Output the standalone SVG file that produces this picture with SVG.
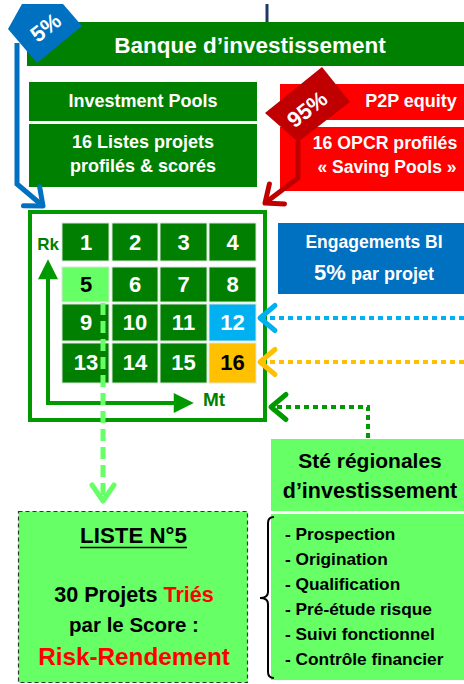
<svg xmlns="http://www.w3.org/2000/svg" width="464" height="684" viewBox="0 0 464 684">
<style>
text{font-family:"Liberation Sans",Arial,sans-serif;font-weight:bold;text-anchor:middle}
.w{fill:#fff}
.k{fill:#000}
.r{fill:#ff0000}
.dg{fill:#007f00}
.cell{fill:#007f00;stroke:#d8e6d8;stroke-width:1}
.num{font-size:22px}
.lg{fill:#66ff66}
.li{text-anchor:start}
</style>
<defs>
<marker id="chev" markerUnits="userSpaceOnUse" markerWidth="30" markerHeight="30" refX="0" refY="0" viewBox="-14 -12 18 24" orient="auto" overflow="visible">
<path d="M-12,-10 L0,0 L-12,10" fill="none" stroke="context-stroke" stroke-width="4" stroke-linecap="round" stroke-linejoin="round"/>
</marker>
<marker id="tri" markerUnits="userSpaceOnUse" markerWidth="20" markerHeight="20" refX="0" refY="0" viewBox="-14 -8 16 16" orient="auto" overflow="visible">
<path d="M-13,-8 L3,0 L-13,8 Z" fill="#009a00"/>
</marker>
</defs>

<line x1="267" y1="4" x2="267" y2="23" stroke="#1f3864" stroke-width="3"/>

<g id="banque">
<rect x="27" y="22" width="437" height="44" fill="#008000"/>
<text x="250" y="53" class="w" font-size="22.5">Banque d’investissement</text>
</g>

<g id="investment-pools">
<rect x="29" y="82" width="228" height="39" fill="#008000"/>
<text x="143" y="107" class="w" font-size="18">Investment Pools</text>
<rect x="29" y="124" width="228" height="63" fill="#008000"/>
<text x="143" y="148" class="w" font-size="18">16 Listes projets</text>
<text x="143" y="172" class="w" font-size="18">profilés &amp; scorés</text>
</g>

<g id="p2p">
<rect x="280" y="84" width="184" height="36" fill="#ff0000"/>
<text x="411" y="107" class="w" font-size="18">P2P equity</text>
<rect x="280" y="127" width="184" height="64" fill="#ff0000"/>
<text x="385" y="149" class="w" font-size="17.7">16 OPCR profilés</text>
<text x="387" y="173" class="w" font-size="17.5">« Saving Pools »</text>
</g>

<g id="tag-5">
<polygon points="8,29 22,4 63,4 82,26 37,63" fill="#0070c0"/>
<text x="46" y="35" class="w" font-size="22" transform="rotate(-38 46 28)">5%</text>
</g>

<g id="tag-95">
<polygon points="265,113 322,67 350,102 298,142" fill="#c00000"/>
<text x="307" y="117" class="w" font-size="22" transform="rotate(-38 307 109)">95%</text>
</g>

<g id="matrix">
<rect x="30" y="212" width="235" height="208" fill="#fff" stroke="#009a00" stroke-width="4"/>
<rect class="cell" x="62" y="223" width="47" height="38"/>
<rect class="cell" x="112" y="223" width="46" height="38"/>
<rect class="cell" x="160" y="223" width="47" height="38"/>
<rect class="cell" x="209" y="223" width="47" height="38"/>
<rect x="62" y="267" width="47" height="35" fill="#66ff66" stroke="#d8e6d8" stroke-width="1"/>
<rect class="cell" x="112" y="267" width="46" height="35"/>
<rect class="cell" x="160" y="267" width="47" height="35"/>
<rect class="cell" x="209" y="267" width="47" height="35"/>
<rect class="cell" x="62" y="304" width="47" height="37"/>
<rect class="cell" x="112" y="304" width="46" height="37"/>
<rect class="cell" x="160" y="304" width="47" height="37"/>
<rect x="209" y="304" width="47" height="37" fill="#00b0f0" stroke="#d8e6d8" stroke-width="1"/>
<rect class="cell" x="62" y="343" width="47" height="40"/>
<rect class="cell" x="112" y="343" width="46" height="40"/>
<rect class="cell" x="160" y="343" width="47" height="40"/>
<rect x="209" y="343" width="47" height="40" fill="#ffc000" stroke="#d8e6d8" stroke-width="1"/>
<text class="num w" x="86" y="250">1</text>
<text class="num w" x="135" y="250">2</text>
<text class="num w" x="183.5" y="250">3</text>
<text class="num w" x="232.5" y="250">4</text>
<text class="num k" x="86" y="292">5</text>
<text class="num w" x="135" y="292">6</text>
<text class="num w" x="183.5" y="292">7</text>
<text class="num w" x="232.5" y="292">8</text>
<text class="num w" x="86" y="330">9</text>
<text class="num w" x="135" y="330">10</text>
<text class="num w" x="183.5" y="330">11</text>
<text class="num w" x="232.5" y="330">12</text>
<text class="num w" x="86" y="370">13</text>
<text class="num w" x="135" y="370">14</text>
<text class="num w" x="183.5" y="370">15</text>
<text class="num k" x="232.5" y="370">16</text>
<path d="M48,403 V263" fill="none" stroke="#009a00" stroke-width="4" marker-end="url(#tri)"/>
<path d="M46,403 H190" fill="none" stroke="#009a00" stroke-width="4" marker-end="url(#tri)"/>
<text x="48" y="250" class="dg" font-size="17">Rk</text>
<text x="214" y="406" class="dg" font-size="19">Mt</text>
</g>

<g id="engagements">
<rect x="278" y="223" width="186" height="71" fill="#0070c0"/>
<text x="374" y="248" class="w" font-size="17.5">Engagements BI</text>
<text x="374" y="280" class="w"><tspan font-size="22">5%</tspan><tspan font-size="18"> par projet</tspan></text>
</g>

<g id="ste-regionales">
<rect x="271" y="439" width="193" height="72" class="lg"/>
<text x="370" y="468" class="k" font-size="21">Sté régionales</text>
<text x="370" y="498" class="k" font-size="21.5">d’investissement</text>
</g>

<g id="missions">
<rect x="271" y="514" width="193" height="166" class="lg"/>
<path d="M274,517 Q268,517 268,523 V592 Q268,598 260,598 Q268,598 268,604 V672 Q268,678 274,678" fill="none" stroke="#000" stroke-width="2"/>
<g font-size="17.3" class="k">
<text x="285" y="540" class="li">- Prospection</text>
<text x="285" y="565" class="li">- Origination</text>
<text x="285" y="590" class="li">- Qualification</text>
<text x="285" y="615" class="li">- Pré-étude risque</text>
<text x="285" y="640" class="li">- Suivi fonctionnel</text>
<text x="285" y="665" class="li">- Contrôle financier</text>
</g>
</g>

<g id="liste5">
<rect x="18.5" y="511.5" width="229" height="171" fill="#66ff66" stroke="#333" stroke-width="1.2" stroke-dasharray="4 3"/>
<text x="133.5" y="543" class="k" font-size="22.3">LISTE N°5</text>
<line x1="80" y1="547.5" x2="187" y2="547.5" stroke="#000" stroke-width="1.6"/>
<text x="134" y="602" class="k" font-size="21.6">30 Projets <tspan class="r">Triés</tspan></text>
<text x="134" y="632" class="k" font-size="20.5">par le Score :</text>
<text x="134" y="665" class="r" font-size="24.3">Risk-Rendement</text>
</g>

<g id="connectors">
<path d="M17,43 V184 L43,206" fill="none" stroke="#0070c0" stroke-width="5" marker-end="url(#chev)"/>
<path d="M298,141 V178 L265,203" fill="none" stroke="#c00000" stroke-width="5" marker-end="url(#chev)"/>
<path d="M103,303 V500" fill="none" stroke="#66ff66" stroke-width="5" stroke-dasharray="12 6"/>
<path d="M92,485 L103,501 L114,485" fill="none" stroke="#66ff66" stroke-width="5" stroke-linecap="round" stroke-linejoin="round"/>
<path d="M464,318 H260" fill="none" stroke="#00b0f0" stroke-width="4" stroke-dasharray="5 4" marker-end="url(#chev)"/>
<path d="M464,362 H260" fill="none" stroke="#ffc000" stroke-width="4" stroke-dasharray="5 4" marker-end="url(#chev)"/>
<path d="M368,438 V407 H271" fill="none" stroke="#009a00" stroke-width="4" stroke-dasharray="5 4" marker-end="url(#chev)"/>
</g>
</svg>
